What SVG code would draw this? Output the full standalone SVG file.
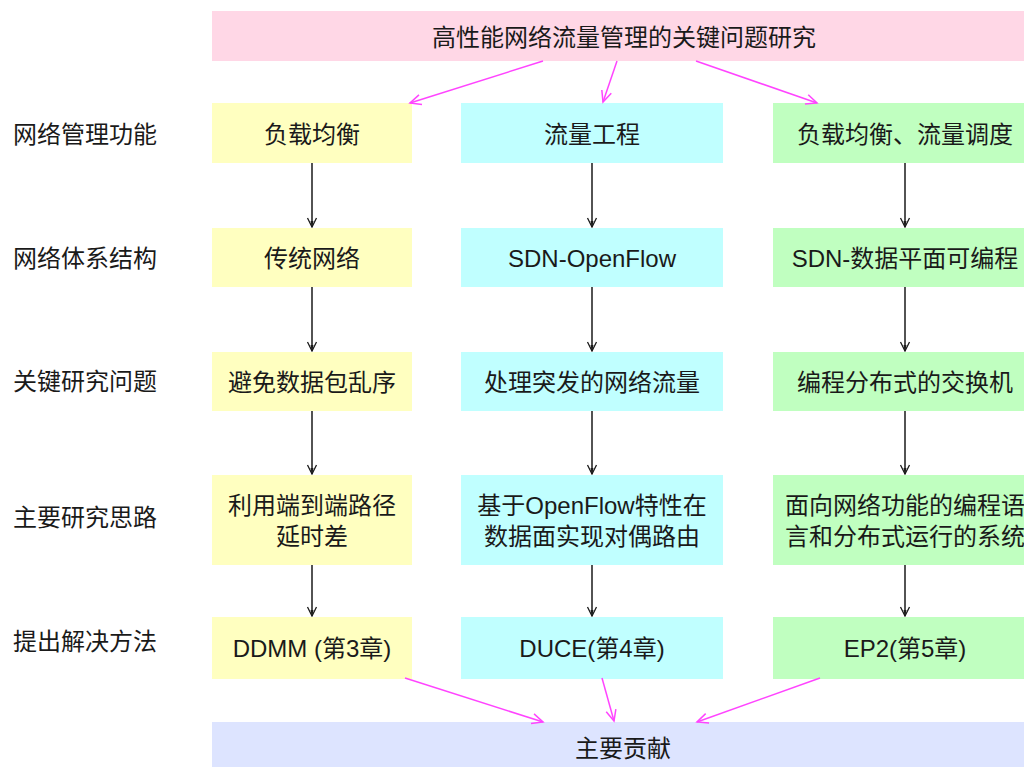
<svg xmlns="http://www.w3.org/2000/svg" width="1024" height="767" viewBox="0 0 1024 767">
<defs>
<style>
text{font-family:"Liberation Sans","Noto Sans CJK SC",sans-serif;font-size:24px;fill:#1a1a1a;dominant-baseline:central}
.c{text-anchor:middle}
.y{fill:#ffffc0}
.b{fill:#c0ffff}
.g{fill:#c0ffc0}
.k{stroke:#1a1a1a;stroke-width:1.5;fill:none}
.m{stroke:#ff44ff;stroke-width:1.5;fill:none}
</style>
<marker id="ak" viewBox="-11 -6 12 12" markerWidth="12" markerHeight="12" refX="0" refY="0" orient="auto" markerUnits="userSpaceOnUse">
<path d="M-9,-4.5 L0,0 L-9,4.5" fill="none" stroke="#1a1a1a" stroke-width="1.3"/>
<path d="M-6,-1.5 L0,0 L-6,1.5 Z" fill="#1a1a1a"/>
</marker>
<marker id="am" viewBox="-12 -7 14 14" markerWidth="14" markerHeight="14" refX="0" refY="0" orient="auto" markerUnits="userSpaceOnUse">
<path d="M-11,-5 L0,0 L-11,5" fill="none" stroke="#ff44ff" stroke-width="1.5"/>
</marker>
</defs>
<rect width="1024" height="767" fill="#ffffff"/>

<g id="title">
<rect x="212" y="11" width="824" height="50" fill="#ffd7e6"/>
<text class="c" x="624" y="37">高性能网络流量管理的关键问题研究</text>
</g>

<g id="labels">
<text x="13" y="134">网络管理功能</text>
<text x="13" y="258">网络体系结构</text>
<text x="13" y="381">关键研究问题</text>
<text x="13" y="517">主要研究思路</text>
<text x="13" y="641">提出解决方法</text>
</g>

<g id="c1r1"><rect class="y" x="212" y="103" width="200" height="60"/><text class="c" x="312" y="134">负载均衡</text></g>
<g id="c1r2"><rect class="y" x="212" y="228" width="200" height="59"/><text class="c" x="312" y="258">传统网络</text></g>
<g id="c1r3"><rect class="y" x="212" y="352" width="200" height="59"/><text class="c" x="312" y="382">避免数据包乱序</text></g>
<g id="c1r4"><rect class="y" x="212" y="475" width="200" height="90"/><text class="c" x="312" y="505">利用端到端路径</text><text class="c" x="312" y="536">延时差</text></g>
<g id="c1r5"><rect class="y" x="212" y="617" width="200" height="62"/><text class="c" x="312" y="648">DDMM (第3章)</text></g>

<g id="c2r1"><rect class="b" x="461" y="103" width="262" height="60"/><text class="c" x="592" y="134">流量工程</text></g>
<g id="c2r2"><rect class="b" x="461" y="228" width="262" height="59"/><text class="c" x="592" y="258">SDN-OpenFlow</text></g>
<g id="c2r3"><rect class="b" x="461" y="352" width="262" height="59"/><text class="c" x="592" y="382">处理突发的网络流量</text></g>
<g id="c2r4"><rect class="b" x="461" y="475" width="262" height="90"/><text class="c" x="592" y="505">基于OpenFlow特性在</text><text class="c" x="592" y="536">数据面实现对偶路由</text></g>
<g id="c2r5"><rect class="b" x="461" y="617" width="262" height="62"/><text class="c" x="592" y="648">DUCE(第4章)</text></g>

<g id="c3r1"><rect class="g" x="773" y="103" width="264" height="60"/><text class="c" x="905" y="134">负载均衡、流量调度</text></g>
<g id="c3r2"><rect class="g" x="773" y="228" width="264" height="59"/><text class="c" x="905" y="258">SDN-数据平面可编程</text></g>
<g id="c3r3"><rect class="g" x="773" y="352" width="264" height="59"/><text class="c" x="905" y="382">编程分布式的交换机</text></g>
<g id="c3r4"><rect class="g" x="773" y="475" width="264" height="90"/><text class="c" x="905" y="505">面向网络功能的编程语</text><text class="c" x="905" y="536">言和分布式运行的系统</text></g>
<g id="c3r5"><rect class="g" x="773" y="617" width="264" height="62"/><text class="c" x="905" y="648">EP2(第5章)</text></g>

<g id="result">
<rect x="212" y="722" width="824" height="52" fill="#dde4ff"/>
<text class="c" x="623" y="748">主要贡献</text>
</g>

<g id="connectors">
<line class="k" x1="312" y1="163" x2="312" y2="227" marker-end="url(#ak)"/>
<line class="k" x1="312" y1="287" x2="312" y2="351" marker-end="url(#ak)"/>
<line class="k" x1="312" y1="411" x2="312" y2="474" marker-end="url(#ak)"/>
<line class="k" x1="312" y1="565" x2="312" y2="616" marker-end="url(#ak)"/>
<line class="k" x1="592" y1="163" x2="592" y2="227" marker-end="url(#ak)"/>
<line class="k" x1="592" y1="287" x2="592" y2="351" marker-end="url(#ak)"/>
<line class="k" x1="592" y1="411" x2="592" y2="474" marker-end="url(#ak)"/>
<line class="k" x1="592" y1="565" x2="592" y2="616" marker-end="url(#ak)"/>
<line class="k" x1="905" y1="163" x2="905" y2="227" marker-end="url(#ak)"/>
<line class="k" x1="905" y1="287" x2="905" y2="351" marker-end="url(#ak)"/>
<line class="k" x1="905" y1="411" x2="905" y2="474" marker-end="url(#ak)"/>
<line class="k" x1="905" y1="565" x2="905" y2="616" marker-end="url(#ak)"/>
<line class="m" x1="543" y1="61" x2="410" y2="103" marker-end="url(#am)"/>
<line class="m" x1="617" y1="61" x2="603" y2="102" marker-end="url(#am)"/>
<line class="m" x1="696" y1="61" x2="817" y2="103" marker-end="url(#am)"/>
<line class="m" x1="405" y1="678" x2="543" y2="722" marker-end="url(#am)"/>
<line class="m" x1="602" y1="678" x2="614" y2="721" marker-end="url(#am)"/>
<line class="m" x1="820" y1="678" x2="697" y2="722" marker-end="url(#am)"/>
</g>
</svg>
